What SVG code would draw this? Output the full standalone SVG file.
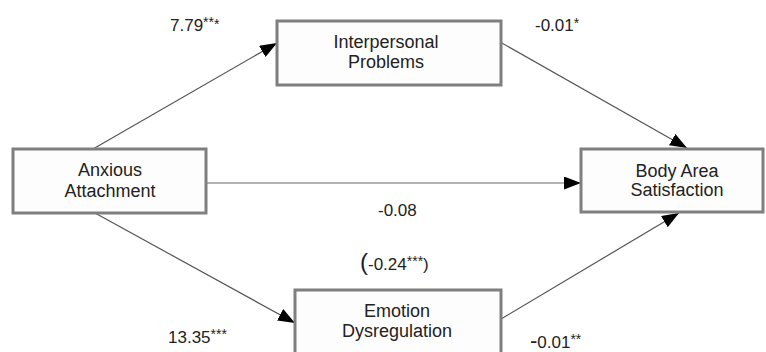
<svg xmlns="http://www.w3.org/2000/svg" width="766" height="352" viewBox="0 0 766 352">
<style>
.box{fill:#fdfdfd;stroke:#7f7f7f;stroke-width:3}
.t{font-family:"Liberation Sans",Arial,sans-serif;font-size:18px;fill:#222;text-anchor:middle}
.lbl{font-family:"Liberation Sans",Arial,sans-serif;font-size:17px;fill:#222}
.st{font-size:14px}
.c{fill:none;stroke:#555;stroke-width:1.2}
.c2{fill:none;stroke:#9a9a9a;stroke-width:1.4}
</style>
<defs>
<marker id="ah" markerUnits="userSpaceOnUse" markerWidth="18" markerHeight="14" refX="17" refY="6.5" orient="auto">
<path d="M0,0 L17,6.5 L0,13 z" fill="#000"/>
</marker>
</defs>
<rect width="766" height="352" fill="#fff"/>
<g id="connectors">
<line class="c" x1="93" y1="149" x2="277" y2="43" marker-end="url(#ah)"/>
<line class="c" x1="500" y1="42" x2="687" y2="148" marker-end="url(#ah)"/>
<line class="c2" x1="206" y1="183" x2="581" y2="183" marker-end="url(#ah)"/>
<line class="c" x1="95" y1="213" x2="295" y2="323" marker-end="url(#ah)"/>
<line class="c" x1="501" y1="319" x2="679" y2="213" marker-end="url(#ah)"/>
</g>
<g id="anxious">
<rect class="box" x="13" y="149" width="193" height="64"/>
<text class="t" x="110" y="176">Anxious</text>
<text class="t" x="110" y="197">Attachment</text>
</g>
<g id="interpersonal">
<rect class="box" x="277" y="21" width="224" height="64"/>
<text class="t" x="386" y="48">Interpersonal</text>
<text class="t" x="386" y="68">Problems</text>
</g>
<g id="body">
<rect class="box" x="581" y="149" width="182" height="63"/>
<text class="t" x="677" y="177">Body Area</text>
<text class="t" x="677" y="196">Satisfaction</text>
</g>
<g id="emotion">
<rect class="box" x="295" y="290" width="206" height="72"/>
<text class="t" x="397" y="317">Emotion</text>
<text class="t" x="397" y="337">Dysregulation</text>
</g>
<g id="labels">
<text class="lbl" x="170" y="31">7.79<tspan class="st" dy="-4">**</tspan><tspan class="st" dy="2">*</tspan></text>
<text class="lbl" x="535" y="31">-0.01<tspan class="st" dy="-3">*</tspan></text>
<text class="lbl" x="378" y="216">-0.08</text>
<text class="lbl" x="360" y="270"><tspan font-size="24">(</tspan>-0.24<tspan class="st" dy="-4">***</tspan><tspan dy="4">)</tspan></text>
<text class="lbl" x="168" y="343">13.35<tspan class="st" dy="-4">***</tspan></text>
<text class="lbl" x="530" y="348"><tspan font-size="22">-</tspan>0.01<tspan class="st" dy="-4">**</tspan></text>
</g>
</svg>
